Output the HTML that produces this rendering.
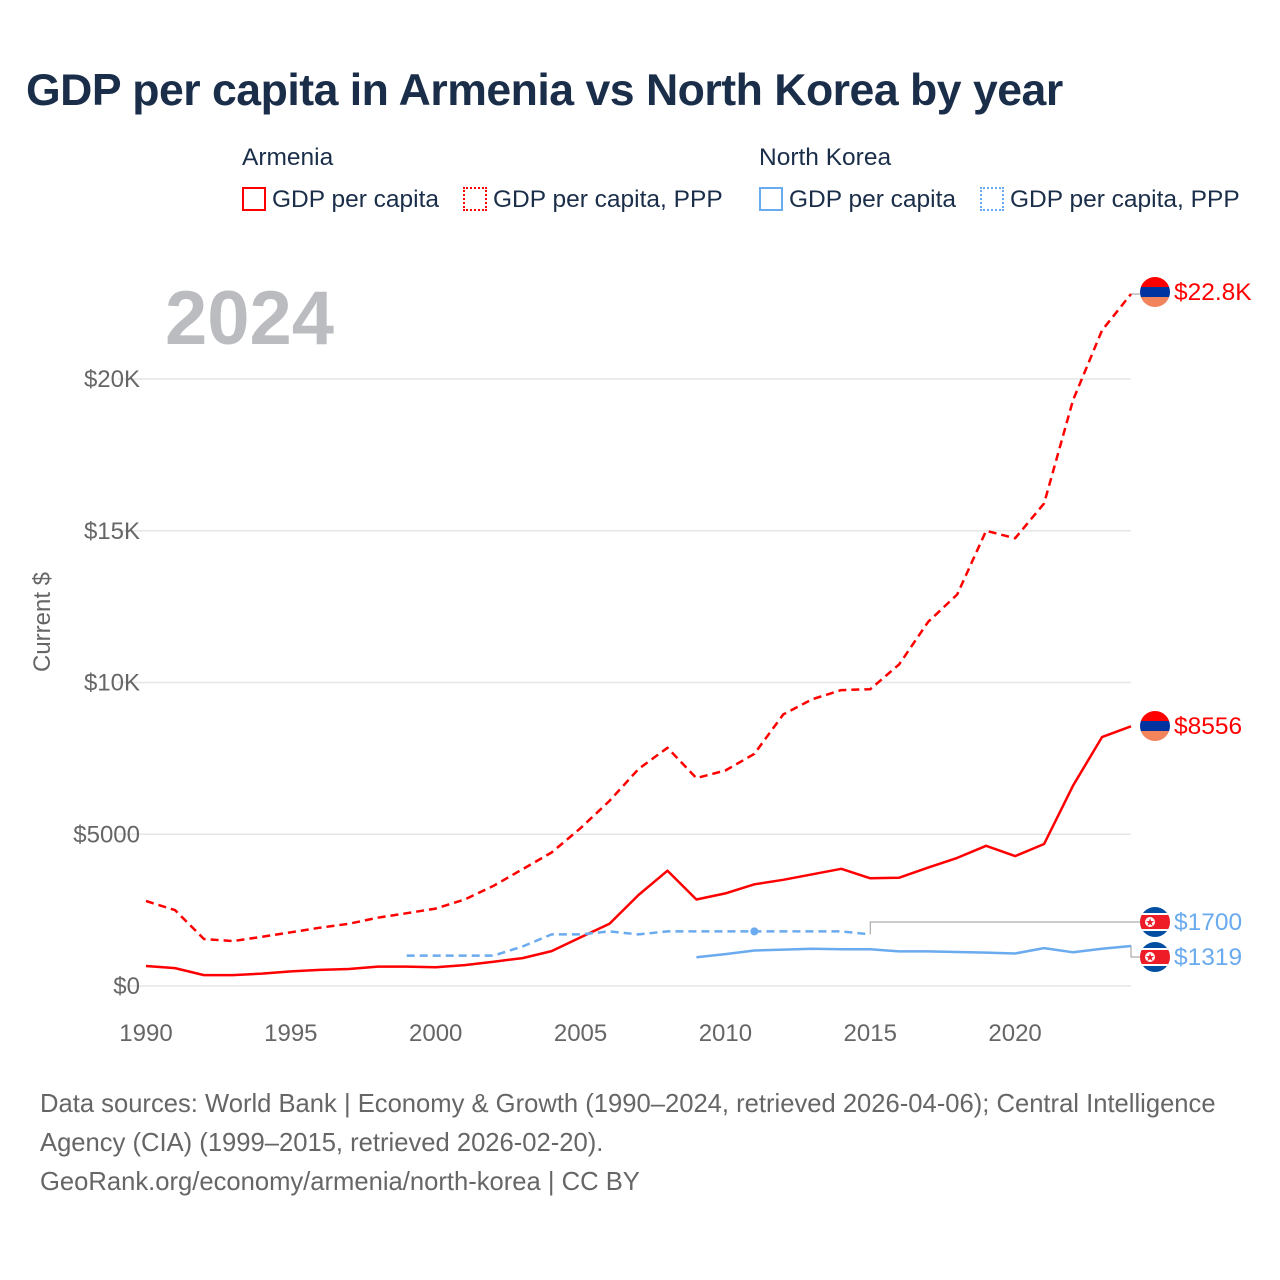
<!DOCTYPE html>
<html><head><meta charset="utf-8"><style>
body{margin:0;background:#fff;font-family:"Liberation Sans",sans-serif}
#wrap{position:relative;width:1280px;height:1280px;overflow:hidden}
.t{position:absolute;white-space:nowrap}
</style></head><body>
<div id="wrap">
<div class="t" style="left:26px;top:66px;font-size:44.6px;font-weight:bold;color:#1a2e4a;letter-spacing:-0.5px">GDP per capita in Armenia vs North Korea by year</div>
<div class="t" style="left:242px;top:144px;font-size:24.5px;color:#1a2e4a">Armenia</div>
<div class="t" style="left:759px;top:144px;font-size:24.5px;color:#1a2e4a">North Korea</div>
<div class="t" style="left:242px;top:186px;font-size:24.5px;color:#1a2e4a"><span style="display:inline-block;width:24px;height:24px;border:2px solid #f00;box-sizing:border-box;vertical-align:-4px;margin-right:6px"></span>GDP per capita</div>
<div class="t" style="left:463px;top:186px;font-size:24.5px;color:#1a2e4a"><span style="display:inline-block;width:24px;height:24px;border:2px dotted #f00;box-sizing:border-box;vertical-align:-4px;margin-right:6px"></span>GDP per capita, PPP</div>
<div class="t" style="left:759px;top:186px;font-size:24.5px;color:#1a2e4a"><span style="display:inline-block;width:24px;height:24px;border:2px solid #6aaaee;box-sizing:border-box;vertical-align:-4px;margin-right:6px"></span>GDP per capita</div>
<div class="t" style="left:980px;top:186px;font-size:24.5px;color:#1a2e4a"><span style="display:inline-block;width:24px;height:24px;border:2px dotted #6aaaee;box-sizing:border-box;vertical-align:-4px;margin-right:6px"></span>GDP per capita, PPP</div>
<svg id="chart" width="1280" height="1280" style="position:absolute;left:0;top:0"></svg>
<div class="t" style="left:40px;top:1085px;font-size:25.6px;line-height:39px;color:#666">Data sources: World Bank | Economy &amp; Growth (1990–2024, retrieved 2026-04-06); Central Intelligence<br>Agency (CIA) (1999–2015, retrieved 2026-02-20).<br>GeoRank.org/economy/armenia/north-korea | CC BY</div>
</div>
<script>
const years=[1990,1991,1992,1993,1994,1995,1996,1997,1998,1999,2000,2001,2002,2003,2004,2005,2006,2007,2008,2009,2010,2011,2012,2013,2014,2015,2016,2017,2018,2019,2020,2021,2022,2023,2024];
const armGdp=[660,590,360,360,410,480,530,560,640,640,620,690,800,920,1150,1600,2050,3000,3800,2850,3050,3350,3500,3680,3860,3550,3570,3900,4220,4620,4280,4680,6600,8200,8556];
const armPpp=[2800,2500,1550,1480,1620,1770,1920,2050,2250,2400,2550,2850,3300,3850,4400,5200,6100,7150,7850,6850,7100,7650,8950,9450,9750,9780,10600,12000,12900,15000,14750,15900,19300,21600,22800];
const nkPppYears=[1999,2000,2001,2002,2003,2004,2005,2006,2007,2008,2009,2010,2011,2012,2013,2014,2015];
const nkPpp=[1000,1000,1000,1000,1300,1700,1700,1800,1700,1800,1800,1800,1800,1800,1800,1800,1700];
const nkGdpYears=[2009,2010,2011,2012,2013,2014,2015,2016,2017,2018,2019,2020,2021,2022,2023,2024];
const nkGdp=[950,1050,1170,1200,1230,1210,1210,1140,1140,1120,1100,1070,1250,1110,1230,1319];
const yTicks=[0,5000,10000,15000,20000];
const yTickLabels=["$0","$5000","$10K","$15K","$20K"];
const xTicks=[1990,1995,2000,2005,2010,2015,2020];
const NS="http://www.w3.org/2000/svg";
const svg=document.getElementById('chart');
const X=y=>146+(y-1990)*28.97;
const Y=v=>986-v*0.03035;
function el(t,a,p){const e=document.createElementNS(NS,t);for(const k in a)e.setAttribute(k,a[k]);(p||svg).appendChild(e);return e;}
yTicks.forEach((v,i)=>{
  const g=el('line',{x1:118,x2:1131,y1:Y(v),y2:Y(v),stroke:'#e6e6e6','stroke-width':1.5});
  
  
  const t=el('text',{x:140,y:Y(v)+8,'text-anchor':'end','font-size':24,fill:'#666','font-family':'Liberation Sans, sans-serif'});
  t.textContent=yTickLabels[i];
  
  
});
xTicks.forEach(v=>{
  const t=el('text',{x:X(v),y:1041,'text-anchor':'middle','font-size':24,fill:'#666','font-family':'Liberation Sans, sans-serif'});
  t.textContent=v;
  
  
});
const yt=el('text',{x:50,y:622,'text-anchor':'middle','font-size':24,fill:'#666',transform:'rotate(-90 50 622)','font-family':'Liberation Sans, sans-serif'});
yt.textContent='Current $';


const yr=el('text',{x:165,y:344,'font-size':76,'font-weight':'bold',fill:'#bbbcc0','font-family':'Liberation Sans, sans-serif'});
yr.textContent='2024';


function line(xs,vs,color,dash,name){
  const d=xs.map((x,i)=>(i?'L':'M')+X(x).toFixed(1)+','+Y(vs[i]).toFixed(1)).join('');
  const p=el('path',{d:d,fill:'none',stroke:color,'stroke-width':2.5,'stroke-dasharray':dash||'none','stroke-linejoin':'round'});
  
  
}
const c1=el('path',{d:`M${X(2015)},${Y(nkPpp[nkPpp.length-1])} V922 H1140`,fill:'none',stroke:'#999','stroke-width':1});


const c2=el('path',{d:`M${X(2024)},${Y(nkGdp[nkGdp.length-1])} H1131 V957 H1140`,fill:'none',stroke:'#999','stroke-width':1});


const c3=el('path',{d:`M${X(2024)},${Y(armPpp[34])} H1140`,fill:'none',stroke:'#999','stroke-width':1});


line(years,armPpp,'#f00','8 5','armenia-ppp-line');
line(years,armGdp,'#f00',null,'armenia-gdp-line');
line(nkPppYears,nkPpp,'#6aaaee','8 5','north-korea-ppp-line');
line(nkGdpYears,nkGdp,'#6aaaee',null,'north-korea-gdp-line');
const mk=el('circle',{cx:X(2011),cy:Y(nkPpp[12]),r:4,fill:'#6aaaee'});


function armFlag(cy,name){
  const g=el('g',{});
  
  
  const id='c'+Math.round(cy);
  const cp=el('clipPath',{id:id},g);el('circle',{cx:1155,cy:cy,r:15},cp);
  const gg=el('g',{'clip-path':`url(#${id})`},g);
  el('rect',{x:1140,y:cy-15,width:30,height:10,fill:'#f00'},gg);
  el('rect',{x:1140,y:cy-5,width:30,height:10,fill:'#0033a0'},gg);
  el('rect',{x:1140,y:cy+5,width:30,height:10,fill:'#f2845c'},gg);
}
function nkFlag(cy,name){
  const g=el('g',{});
  
  
  const id='n'+Math.round(cy);
  const cp=el('clipPath',{id:id},g);el('circle',{cx:1155,cy:cy,r:15},cp);
  const gg=el('g',{'clip-path':`url(#${id})`},g);
  el('rect',{x:1140,y:cy-15,width:30,height:30,fill:'#024fa2'},gg);
  el('rect',{x:1140,y:cy-9,width:30,height:18,fill:'#fff'},gg);
  el('rect',{x:1140,y:cy-7,width:30,height:14,fill:'#ed1c27'},gg);
  el('circle',{cx:1150,cy:cy,r:5,fill:'#fff'},gg);
  el('text',{x:1150,y:cy+4,'text-anchor':'middle','font-size':11,fill:'#ed1c27'},gg).textContent='★';
}
armFlag(292,'armenia-ppp-flag');armFlag(726,'armenia-gdp-flag');nkFlag(922,'nk-ppp-flag');nkFlag(957,'nk-gdp-flag');
[['$22.8K',292,'#f00','armenia-ppp-end-label'],['$8556',726,'#f00','armenia-gdp-end-label'],['$1700',922,'#6aaaee','nk-ppp-end-label'],['$1319',957,'#6aaaee','nk-gdp-end-label']].forEach(a=>{
  const t=el('text',{x:1174,y:a[1]+8,'font-size':24.5,fill:a[2],'font-family':'Liberation Sans, sans-serif'});
  t.textContent=a[0];
  
  
});
</script>
</body></html>
